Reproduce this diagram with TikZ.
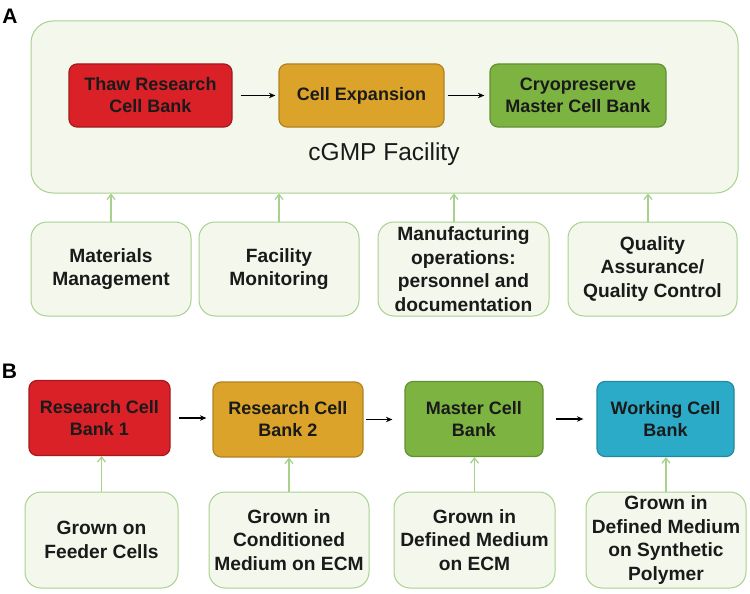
\documentclass[tikz,border=0pt]{standalone}
\usepackage{fontspec}
\setmainfont{Liberation Sans}
\usetikzlibrary{arrows.meta}
\definecolor{lgreen}{HTML}{A9D18E}
\definecolor{lfill}{HTML}{F4F8EC}
\definecolor{cred}{HTML}{DA2128}
\definecolor{cgold}{HTML}{DBA32A}
\definecolor{cgreen}{HTML}{7DB341}
\definecolor{cblue}{HTML}{2BABC8}
\definecolor{txt}{HTML}{1A1A1A}
\begin{document}
\begin{tikzpicture}[x=1pt,y=-1pt,
  facbox/.style={draw=lgreen,fill=lfill,line width=1pt,rounded corners=22pt,minimum width=707pt,minimum height=172pt,inner sep=0pt},
  cbox/.style={rounded corners=8pt,line width=1.2pt,align=center,inner sep=0pt,text=txt,
     font=\bfseries\fontsize{18}{22}\selectfont},
  gbox/.style={draw=lgreen,fill=lfill,line width=1pt,rounded corners=16pt,align=center,inner sep=0pt,text=txt,
     font=\bfseries\fontsize{19.2}{23.5}\selectfont},
  barrow/.style={-{Stealth[length=6.5pt,width=5.5pt]},line width=1.3pt,black},
  garrow/.style={-{Straight Barb[length=5pt,width=8pt]},line width=1.3pt,lgreen},
  lab/.style={font=\bfseries\fontsize{21}{21}\selectfont,inner sep=0pt}
]
\useasboundingbox (0,0) rectangle (750,594);
% Panel A
\node[lab] (la) at (10,16) {A};
\node[facbox] (fac) at (384.5,107) {};
\node[cbox,fill=cred,draw=cred!75!black,minimum width=163pt,minimum height=63pt] (thaw) at (150.5,95.5) {Thaw Research\\Cell Bank};
\node[cbox,fill=cgold,draw=cgold!80!black,minimum width=165pt,minimum height=63pt] (exp) at (361.5,95.5) {Cell Expansion};
\node[cbox,fill=cgreen,draw=cgreen!80!black,minimum width=176pt,minimum height=63pt] (cryo) at (578,95.5) {Cryopreserve\\Master Cell Bank};
\node[font=\fontsize{24.5}{24.5}\selectfont,inner sep=0pt,text=txt] (cgmp) at (384,154) {cGMP Facility};
\draw[barrow,shorten <=8pt,shorten >=3pt] (thaw.east) -- (exp.west);
\draw[barrow,shorten <=3pt,shorten >=5pt] (exp.east) -- (cryo.west);

\node[gbox,minimum width=160pt,minimum height=94pt] (mm) at (111,269) {Materials\\Management};
\node[gbox,minimum width=160pt,minimum height=94pt] (fm) at (279,269) {Facility\\Monitoring};
\node[gbox,minimum width=171pt,minimum height=94pt] (mo) at (463.5,269) {Manufacturing\\operations:\\personnel and\\documentation};
\node[gbox,minimum width=169pt,minimum height=94pt] (qa) at (652.5,269) {Quality\\Assurance/\\Quality Control};
\draw[garrow] (mm.north) -- (mm.north |- fac.south);
\draw[garrow] (fm.north) -- (fm.north |- fac.south);
\draw[garrow] ([xshift=-9.5pt]mo.north) -- ([xshift=-9.5pt]mo.north |- fac.south);
\draw[garrow] ([xshift=-4.5pt]qa.north) -- ([xshift=-4.5pt]qa.north |- fac.south);

% Panel B
\node[lab] (lb) at (9.5,371) {B};
\node[cbox,fill=cred,draw=cred!75!black,minimum width=141pt,minimum height=75pt] (r1) at (99.5,418) {Research Cell\\Bank 1};
\node[cbox,fill=cgold,draw=cgold!80!black,minimum width=150pt,minimum height=75pt] (r2) at (288,419.5) {Research Cell\\Bank 2};
\node[cbox,fill=cgreen,draw=cgreen!80!black,minimum width=138pt,minimum height=75pt] (mc) at (474,419) {Master Cell\\Bank};
\node[cbox,fill=cblue,draw=cblue!80!black,minimum width=137pt,minimum height=75pt] (wc) at (665.5,419) {Working Cell\\Bank};
\draw[barrow,shorten <=8pt,shorten >=6pt] (r1.east) -- (r1.east -| r2.west);
\draw[barrow,shorten <=2pt,shorten >=12pt] (r2.east) -- (r2.east -| mc.west);
\draw[barrow,shorten <=12pt,shorten >=13pt] (mc.east) -- (mc.east -| wc.west);

\node[gbox,minimum width=153pt,minimum height=96pt] (g1) at (101.5,540) {Grown on\\Feeder Cells};
\node[gbox,minimum width=160pt,minimum height=96pt] (g2) at (289,540) {Grown in\\Conditioned\\Medium on ECM};
\node[gbox,minimum width=161pt,minimum height=96pt] (g3) at (474.5,540) {Grown in\\Defined Medium\\on ECM};
\node[gbox,minimum width=160pt,minimum height=96pt] (g4) at (666,540) {Grown in\\Defined Medium\\on Synthetic\\Polymer};
\draw[garrow] (g1.north) -- (g1.north |- r1.south);
\draw[garrow] (g2.north) -- (g2.north |- r2.south);
\draw[garrow] (g3.north) -- (g3.north |- mc.south);
\draw[garrow] (g4.north) -- (g4.north |- wc.south);
\end{tikzpicture}
\end{document}
